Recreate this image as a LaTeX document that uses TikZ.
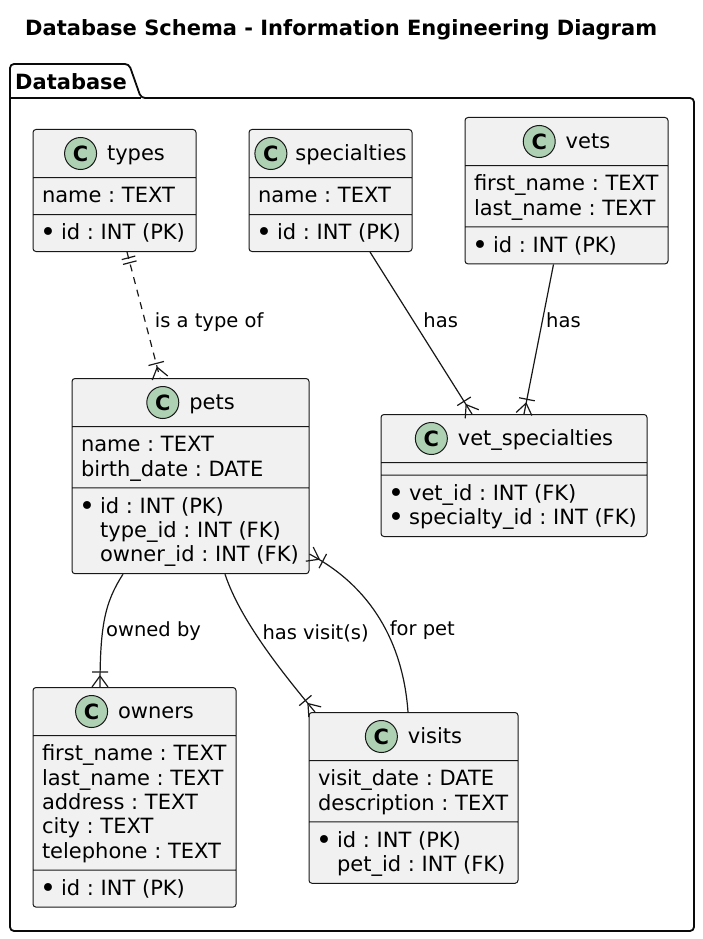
\documentclass[tikz,border=0pt]{standalone}
\usepackage{fontspec}
\setmainfont{DejaVu Sans}
\usetikzlibrary{shapes.multipart,decorations.markings,positioning}

\definecolor{boxfill}{HTML}{F1F1F1}
\definecolor{boxline}{HTML}{181818}
\definecolor{spotgreen}{HTML}{ADD1B2}

% class spot, header and field lines
\newcommand\spot{\tikz[baseline=-7pt]\node[circle,draw=boxline,fill=spotgreen,line width=1pt,inner sep=0pt,minimum size=32pt,anchor=center,font=\fontsize{21}{21}\selectfont\bfseries] (spot) {C};}
\newcommand\chead[2][10pt]{\rule[-10.7pt]{0pt}{35.4pt}\spot\hspace{#1}#2}
\newcommand\fs{\rule[-5.6pt]{0pt}{24.4pt}}
\newcommand\key{\fs\makebox[19.1pt][l]{\hspace*{-1.8pt}\raisebox{-2pt}{\fontsize{27}{24}\selectfont•}}}
\newcommand\nokey{\fs\hspace*{19.1pt}}

\begin{document}
\frenchspacing
\begin{tikzpicture}[
  x=1pt,y=-1pt,
  class/.style={rectangle split,rectangle split parts=3,
    rectangle split part align={center,left,left},
    draw=boxline,fill=boxfill,line width=1pt,rounded corners=3pt,
    align=left,inner xsep=9pt,inner ysep=5.8pt,anchor=north,
    font=\fontsize{21}{24.4}\selectfont},
  edge/.style={draw=boxline,line width=1.2pt},
  crow end/.style={postaction={decorate,decoration={markings,
    mark=at position 1 with {\draw[solid] (-11pt,0pt) -- (0pt,8pt) (-11pt,0pt) -- (0pt,-8pt)
      (-15pt,-8pt) -- (-15pt,8pt);}}}},
  one start/.style={postaction={decorate,decoration={markings,
    mark=at position 0 with {\draw[solid] (6pt,-7pt) -- (6pt,7pt) (11pt,-7pt) -- (11pt,7pt);}}}},
  lbl/.style={font=\fontsize{19.5}{23}\selectfont,inner sep=1pt},
  ttl/.style={font=\fontsize{21}{25}\selectfont\bfseries,anchor=west,inner sep=0pt}
]
  \useasboundingbox (0,0) rectangle (702,939);

  \node[ttl] (title) at (25,29.5) {Database Schema - Information Engineering Diagram};

  % package
  \draw[boxline!40!black,line width=1.8pt,rounded corners=4pt]
    (10,931) -- (10,64) -- (129,64) -- (141,98) -- (694,98) -- (694,931) -- cycle;
  \draw[boxline!40!black,line width=1.8pt] (10,98) -- (141,98);
  \node[ttl] (pkg) at (15,82) {Database};

  % tables
  \node[class,minimum width=163pt] (types) at (114.5,129) {\chead{types}
    \nodepart{two}\fs name : TEXT
    \nodepart{three}\key id : INT (PK)};
  \node[class,minimum width=163pt] (specialties) at (330.5,129) {\hspace*{-4pt}\chead[8pt]{specialties}\hspace*{-4pt}
    \nodepart{two}\fs name : TEXT
    \nodepart{three}\key id : INT (PK)};
  \node[class,minimum width=203pt] (vets) at (566.5,117) {\chead{vets}
    \nodepart{two}\fs first\_name : TEXT\\\fs last\_name : TEXT
    \nodepart{three}\key id : INT (PK)};
  \node[class,minimum width=237pt] (pets) at (190.5,378) {\chead{pets}
    \nodepart{two}\fs name : TEXT\\\fs birth\_date : DATE
    \nodepart{three}\key id : INT (PK)\\\nokey type\_id : INT (FK)\\\nokey owner\_id : INT (FK)};
  \node[class,minimum width=266pt] (vetspec) at (514,414) {\chead{vet\_specialties}
    \nodepart{two}\hspace*{0.1pt}
    \nodepart{three}\key vet\_id : INT (FK)\\\key specialty\_id : INT (FK)};
  \node[class,minimum width=203pt] (owners) at (134.5,687) {\chead{owners}
    \nodepart{two}\fs first\_name : TEXT\\\fs last\_name : TEXT\\\fs address : TEXT\\\fs city : TEXT\\\fs telephone : TEXT
    \nodepart{three}\key id : INT (PK)};
  \node[class,minimum width=209pt] (visits) at (413.5,712) {\chead{visits}
    \nodepart{two}\fs visit\_date : DATE\\\fs description : TEXT
    \nodepart{three}\key id : INT (PK)\\\nokey pet\_id : INT (FK)};

  % relations
  \draw[edge,one start,crow end,dash pattern=on 7pt off 6pt] ([xshift=12.5pt]types.south)
    -- node[lbl,pos=0.555,right=8pt] (l-type) {is a type of} ([xshift=-30.5pt]pets.north);
  \draw[edge,crow end] ([xshift=39.5pt]specialties.south)
    -- node[lbl,pos=0.42,right=9pt] (l-spec) {has} ([xshift=-42pt]vetspec.north);
  \draw[edge,crow end] ([xshift=-13pt]vets.south)
    -- node[lbl,pos=0.37,right=2pt] (l-vets) {has} ([xshift=10pt]vetspec.north);
  \draw[edge,crow end] ([xshift=-67.5pt]pets.south)
    .. controls +(-18,28) and +(0,-62) .. node[lbl,pos=0.62,right=2pt] (l-owner) {owned by}
    ([xshift=-34.5pt]owners.north);
  \draw[edge,crow end] ([xshift=34.5pt]pets.south)
    .. controls +(15,45) and +(-35,-42) .. node[lbl,pos=0.42,right=6pt] (l-visit) {has visit(s)}
    ([xshift=-98.5pt]visits.north);
  \draw[edge,crow end] ([xshift=-5.5pt]visits.north)
    .. controls +(-5,-70) and +(61,32) .. node[lbl,pos=0.43,right=2pt] (l-pet) {for pet}
    ([yshift=-78pt]pets.east);
\end{tikzpicture}
\end{document}
